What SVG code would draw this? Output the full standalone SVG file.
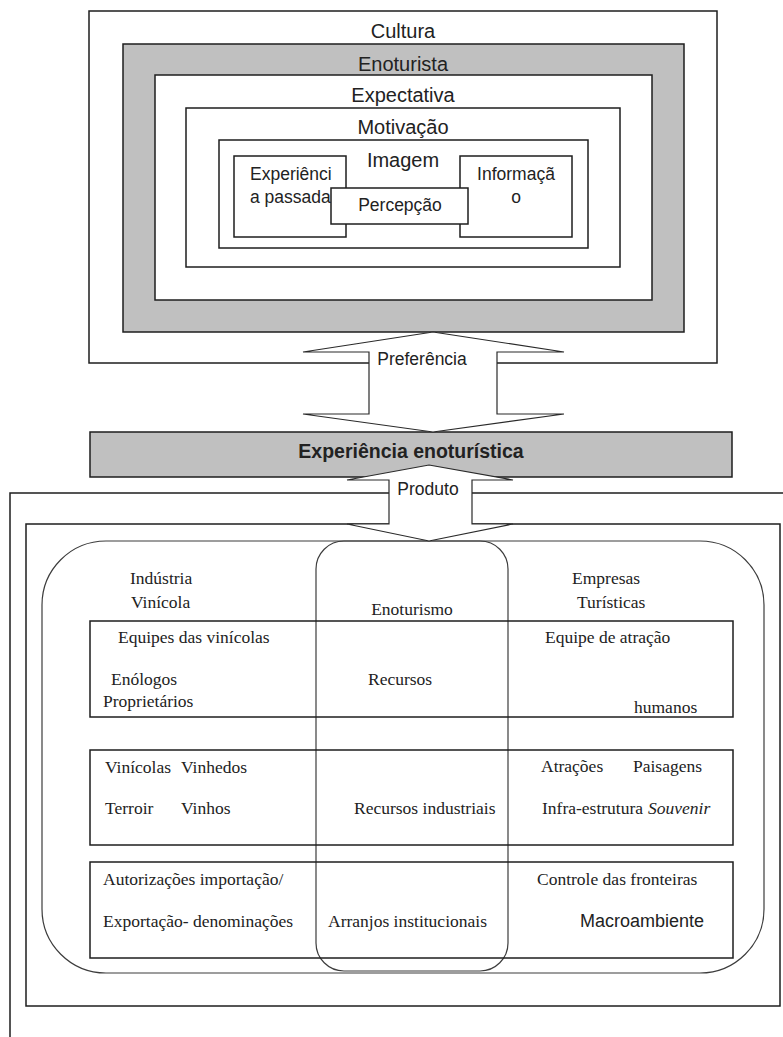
<svg xmlns="http://www.w3.org/2000/svg" width="783" height="1037" viewBox="0 0 783 1037">
<style>
.box{fill:#fff;stroke:#1e1e1e;stroke-width:1.5}
.gray{fill:#c0c0c0;stroke:#1e1e1e;stroke-width:1.5}
.open{fill:none;stroke:#1e1e1e;stroke-width:1.5}
.thin{fill:none;stroke:#3c3c3c;stroke-width:1.2}
.row{fill:none;stroke:#1e1e1e;stroke-width:1.5}
.arrow{fill:#fff;stroke:#2a2a2a;stroke-width:1.2}
.sans{font-family:"Liberation Sans",Arial,sans-serif;fill:#222}
.serif{font-family:"Liberation Serif","Times New Roman",serif;fill:#222;font-size:17.5px}
.big{font-size:20px}
.mid{font-size:17.5px}
.c{text-anchor:middle}
</style>
<g id="cultura">
<rect class="box" x="89" y="11" width="628" height="352"/>
<text class="sans big c" x="403" y="38">Cultura</text>
</g>
<g id="enoturista">
<rect class="gray" x="123" y="44" width="561" height="288"/>
<text class="sans big c" x="403" y="71">Enoturista</text>
</g>
<g id="expectativa">
<rect class="box" x="155" y="75" width="497" height="225"/>
<text class="sans big c" x="403" y="102">Expectativa</text>
</g>
<g id="motivacao">
<rect class="box" x="186" y="108" width="434" height="159"/>
<text class="sans big c" x="403" y="134">Motivação</text>
</g>
<g id="imagem">
<rect class="box" x="219" y="140" width="369" height="108"/>
<text class="sans big c" x="403" y="167">Imagem</text>
</g>
<g id="experiencia-passada">
<rect class="box" x="234" y="156" width="112" height="81"/>
<text class="sans mid" x="250" y="180">Experiênci</text>
<text class="sans mid" x="250" y="203">a passada</text>
</g>
<g id="informacao">
<rect class="box" x="460" y="156" width="112" height="81"/>
<text class="sans mid c" x="516" y="180">Informaçã</text>
<text class="sans mid c" x="516" y="203">o</text>
</g>
<g id="percepcao">
<rect class="box" x="331" y="188" width="137" height="36"/>
<text class="sans mid c" x="400" y="211">Percepção</text>
</g>
<g id="experiencia-enoturistica">
<rect class="gray" x="90" y="432" width="642" height="45"/>
<text class="sans c" x="411" y="458" font-size="19.5" font-weight="bold">Experiência enoturística</text>
</g>
<g id="produto-frame">
<rect class="open" x="10" y="493" width="820" height="600"/>
<rect class="open" x="26" y="524" width="754" height="482"/>
</g>
<g id="sistema">
<rect class="thin" x="42" y="541" width="722" height="432" rx="64" ry="64"/>
<text class="serif" x="130" y="584">Indústria</text>
<text class="serif" x="131" y="608">Vinícola</text>
<text class="serif" x="572" y="584">Empresas</text>
<text class="serif" x="577" y="608">Turísticas</text>
</g>
<g id="enoturismo">
<rect class="thin" x="316" y="541" width="192" height="430" rx="28" ry="28"/>
<text class="serif c" x="412" y="615">Enoturismo</text>
</g>
<g id="recursos-humanos">
<rect class="row" x="90" y="621" width="643" height="96"/>
<text class="serif" x="118" y="643">Equipes das vinícolas</text>
<text class="serif" x="545" y="643">Equipe de atração</text>
<text class="serif" x="111" y="685">Enólogos</text>
<text class="serif" x="368" y="685">Recursos</text>
<text class="serif" x="103" y="707">Proprietários</text>
<text class="serif" x="634" y="713">humanos</text>
</g>
<g id="recursos-industriais">
<rect class="row" x="90" y="750" width="643" height="95"/>
<text class="serif" x="105" y="773">Vinícolas</text>
<text class="serif" x="181" y="773">Vinhedos</text>
<text class="serif" x="541" y="772">Atrações</text>
<text class="serif" x="633" y="772">Paisagens</text>
<text class="serif" x="105" y="814">Terroir</text>
<text class="serif" x="181" y="814">Vinhos</text>
<text class="serif" x="354" y="814">Recursos industriais</text>
<text class="serif" x="542" y="814">Infra-estrutura</text>
<text class="serif" x="648" y="814" font-style="italic">Souvenir</text>
</g>
<g id="arranjos-institucionais">
<rect class="row" x="90" y="862" width="643" height="96"/>
<text class="serif" x="103" y="885">Autorizações importação/</text>
<text class="serif" x="537" y="885">Controle das fronteiras</text>
<text class="serif" x="103" y="927">Exportação- denominações</text>
<text class="serif" x="328" y="927">Arranjos institucionais</text>
<text class="sans" x="580" y="927" font-size="18">Macroambiente</text>
</g>
<g id="connectors">
<polygon class="arrow" points="433,332 564,352 497,352 497,414 564,414 433,432 303,414 369,414 369,352 303,352"/>
<text class="sans mid c" x="422" y="365">Preferência</text>
<polygon class="arrow" points="429,465 513,480 472,480 472,524 513,524 429,541 347,524 389,524 389,480 347,480"/>
<text class="sans mid c" x="428" y="495">Produto</text>
</g>
</svg>
